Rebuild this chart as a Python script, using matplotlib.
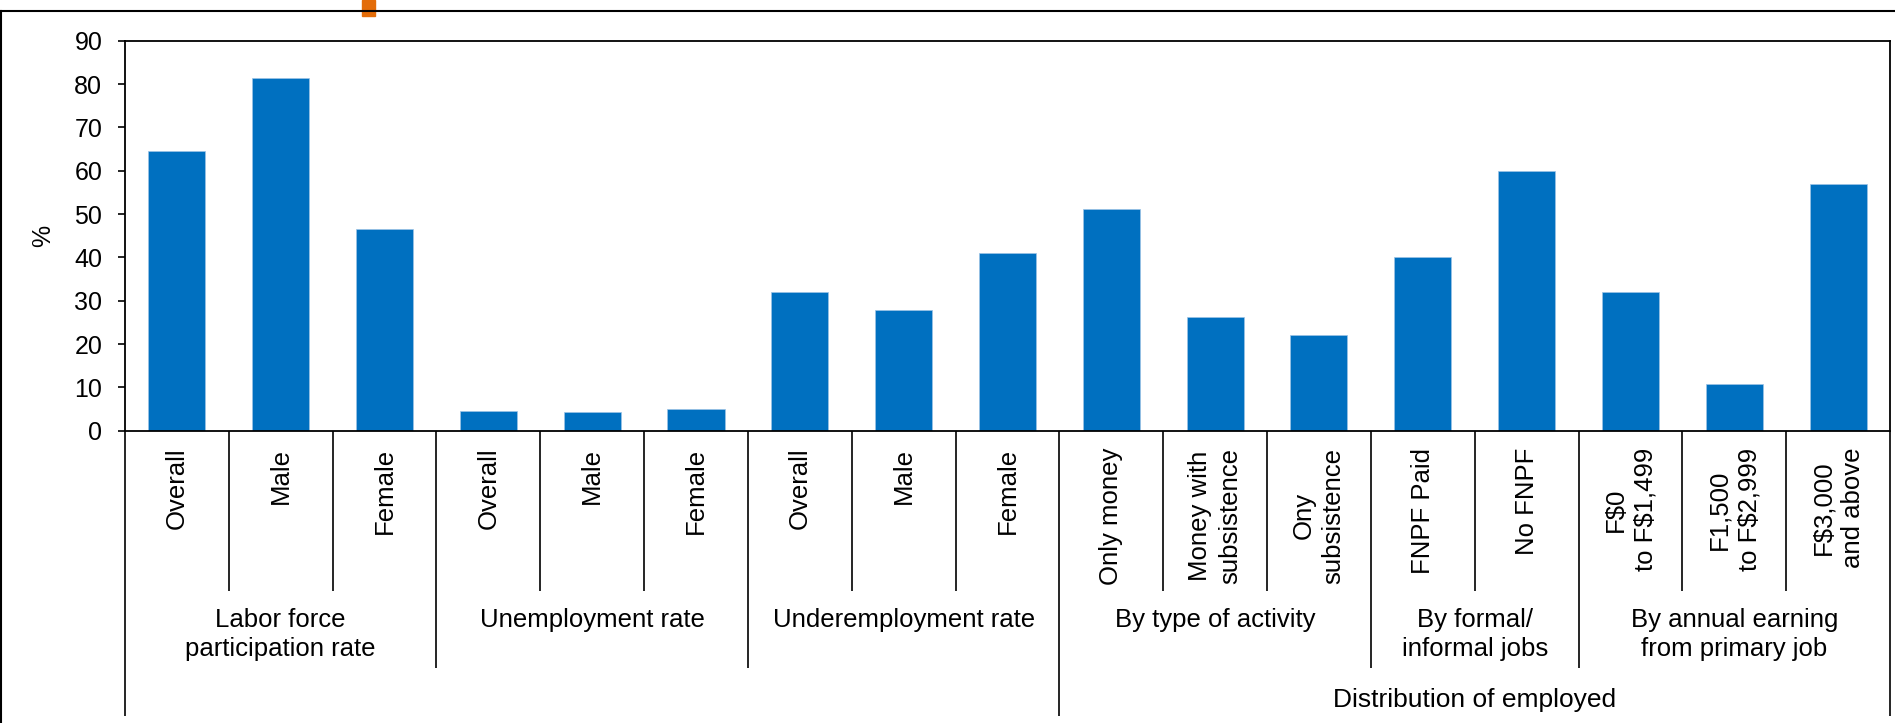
import numpy as np
import matplotlib.pyplot as plt
from matplotlib.lines import Line2D
from matplotlib.patches import Rectangle

plt.rcParams['font.family'] = ['Liberation Sans', 'DejaVu Sans']

# bar labels (bottom row), values in %
categories = ["Overall", "Male", "Female",
              "Overall", "Male", "Female",
              "Overall", "Male", "Female",
              "Only money", "Money with\nsubsistence", "Ony\nsubsistence",
              "FNPF Paid", "No FNPF",
              "F\\$0\nto F\\$1,499", "F1,500\nto F\\$2,999", "F\\$3,000\nand above"]
values = [64.5, 81.5, 46.6,
          4.6, 4.4, 5.0,
          31.9, 27.9, 41.0,
          51.2, 26.2, 22.2,
          40.0, 59.9,
          31.9, 10.8, 57.0]

# middle row
groups = ["Labor force\nparticipation rate", "Unemployment rate", "Underemployment rate",
          "By type of activity", "By formal/\ninformal jobs", "By annual earning\nfrom primary job"]
group_sizes = [3, 3, 3, 3, 2, 3]

# top row (only the last three groups)
super_label = "Distribution of employed"
super_start = 9

W, H = 1895, 723
fig = plt.figure(figsize=(W / 100, H / 100), dpi=100)
ax = fig.add_axes([124.9 / W, 1 - 430.7 / H, (1890 - 124.9) / W, 390 / H])

x = np.arange(len(values))
ax.bar(x, values, width=0.55, color='#0070C0', edgecolor='#9DC3E6', linewidth=0.5)
ax.set_xlim(-0.5, len(values) - 0.5)
ax.set_ylim(0, 90)
ax.set_yticks(range(0, 91, 10))
ax.set_xticks([])
ax.tick_params(axis='y', direction='out', length=5.3, width=1.2, pad=11, labelsize=18)
for s in ax.spines.values():
    s.set_linewidth(1.3)
    s.set_color('black')
ax.set_ylabel('%', fontsize=18, labelpad=14)

trans = ax.get_xaxis_transform()

# separator lines under the axis, three depths
group_edges = list(np.cumsum([0] + group_sizes))
outer_edges = [0, super_start, len(values)]
for k in range(len(values) + 1):
    depth = -0.410
    if k in group_edges:
        depth = -0.6085
    if k in outer_edges:
        depth = -0.7315
    ax.plot([k - 0.5, k - 0.5], [0, depth], color='black', lw=1.2,
            transform=trans, clip_on=False, solid_capstyle='butt')

for i, lab in enumerate(categories):
    ax.text(i, -0.044, lab, rotation=90, ha='center', va='top', multialignment='center',
            fontsize=18.5, linespacing=1.3, transform=trans)

start = 0
for g, n in zip(groups, group_sizes):
    ax.text(start + (n - 1) / 2, -0.455, g, ha='center', va='top', multialignment='center',
            fontsize=18.5, linespacing=1.25, transform=trans)
    start += n

ax.text((super_start + len(values) - 1) / 2, -0.66, super_label, ha='center', va='top',
        fontsize=19, transform=trans)

# outer frame bits and orange marker from the source slide
fig.add_artist(Line2D([0, 1], [1 - 11 / H, 1 - 11 / H], color='black', lw=1.5,
                      transform=fig.transFigure))
fig.add_artist(Line2D([1 / W, 1 / W], [0, 1 - 11 / H], color='black', lw=1.5,
                      transform=fig.transFigure))
fig.add_artist(Rectangle((362 / W, 1 - 16 / H), 13 / W, 16 / H, color='#E36C09',
                         transform=fig.transFigure))

fig.savefig('out.png', dpi=100)
